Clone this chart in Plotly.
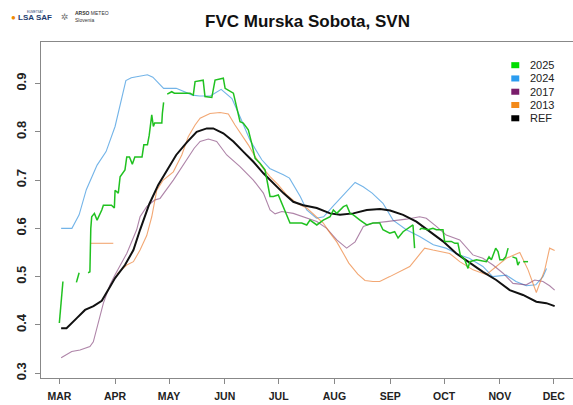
import plotly.graph_objects as go

# day-of-year on x, FVC on y; None marks a gap in the series
days_2025 = [60, 62, None,
             69.5, 71, None,
             76, 77, 77.5, 78, 79.5, 81, 83.6, 84.5, 89, 90.6, 91, 92.8, 93.8, 96.5, 97.5, 99,
             100.6, 102, 106, 107, 109, 110, 111.4, 112.3, 113, 117, 117.3, 118, None,
             120, 122.5, 124, 132.7, 134.5, 135.5, 140, 141, 144.8, 146.6, 151.2, 152.2, 156.8,
             158.7, 160.5, 162.3, 165.1, 167, 168.9, 171.6, 174.4, 177.2, 179, 181.8, 184.6,
             188.3, 194.8, 197.6, 199.4, 203.2, 206.8, 210.6, 212.4, 214.3, 218, 219.8, 221.7,
             223.5, 227.2, 231, 234.4, 238.2, 240, 243.8, 246.5, 248.4, 251.2, 254, 256.7, 257.6, None,
             260.4, 261.3, 265, 267.8, 269.7, 273.4, 274.3, 278, 280, 281.7, 283, 285.5, 287.3,
             288.3, 292, 297.5, 299, 300.3, 302.7, 304, 305, 306.8, 308.3, 309.6, None,
             312, 314.2, 315, 316, None,
             318, 320.7]
fvc_2025 = [0.404, 0.490, None,
            0.488, 0.508, None,
            0.508, 0.510, 0.600, 0.624, 0.631, 0.617, 0.638, 0.648, 0.648, 0.642, 0.679, 0.673,
            0.707, 0.721, 0.748, 0.748, 0.733, 0.748, 0.748, 0.773, 0.773, 0.793, 0.835, 0.811,
            0.818, 0.818, 0.838, 0.861, None,
            0.878, 0.883, 0.880, 0.880, 0.876, 0.904, 0.907, 0.873, 0.871, 0.907, 0.911, 0.890,
            0.880, 0.852, 0.821, 0.818, 0.804, 0.776, 0.745, 0.735, 0.721, 0.666, 0.666, 0.669,
            0.645, 0.611, 0.611, 0.607, 0.617, 0.607, 0.617, 0.624, 0.638, 0.631, 0.645, 0.648,
            0.631, 0.628, 0.617, 0.607, 0.611, 0.611, 0.597, 0.590, 0.593, 0.580, 0.593, 0.600,
            0.607, 0.559, None,
            0.597, 0.600, 0.597, 0.600, 0.597, 0.597, 0.573, 0.573, 0.569, 0.569, 0.545, 0.535,
            0.517, 0.531, 0.535, 0.531, 0.541, 0.535, 0.559, 0.552, 0.535, 0.535, 0.541, 0.559, None,
            0.541, 0.538, 0.524, 0.531, None,
            0.531, 0.531]

days_2024 = [61, 67, 71, 75, 81, 86, 91, 97, 100, 109, 112, 118, 125, 134, 138, 144, 150, 156,
             160.5, 166, 172.6, 177, 184.6, 188, 194, 197.6, 203, 207, 212, 220, 224.5, 229, 234,
             240, 245.6, 253, 260.4, 268, 275, 282.7, 288, 295.6, 301, 308.6, 314, 319.7, 325,
             329, 331]
fvc_2024 = [0.600, 0.600, 0.628, 0.680, 0.731, 0.759, 0.811, 0.906, 0.912, 0.918, 0.913, 0.890,
            0.890, 0.876, 0.874, 0.874, 0.888, 0.869, 0.831, 0.783, 0.742, 0.724, 0.711, 0.704,
            0.666, 0.638, 0.621, 0.624, 0.645, 0.676, 0.695, 0.686, 0.673, 0.652, 0.617, 0.597,
            0.583, 0.566, 0.559, 0.545, 0.538, 0.521, 0.500, 0.503, 0.490, 0.481, 0.483, 0.500,
            0.517]

days_2017 = [61, 66.9, 71.5, 77, 78.9, 81.7, 84.5, 88.2, 91, 97.5, 103, 104.9, 108.6, 113.2, 116,
             123.4, 130.9, 135, 138.3, 142.9, 147.5, 153.1, 160.5, 167.9, 173.5, 177.2, 180, 183.7,
             190.1, 197.6, 203.2, 208.7, 214.3, 219.8, 224.5, 229.1, 234.7, 241.9, 253, 260.4,
             264.1, 269.7, 275.2, 282.7, 290, 295.6, 301.2, 306.8, 312.3, 319.7, 324.4, 329,
             332.7, 335.5]
fvc_2017 = [0.332, 0.345, 0.348, 0.355, 0.365, 0.403, 0.445, 0.483, 0.504, 0.548, 0.597, 0.624,
            0.645, 0.659, 0.662, 0.700, 0.742, 0.766, 0.780, 0.785, 0.780, 0.752, 0.728, 0.700,
            0.673, 0.638, 0.630, 0.635, 0.631, 0.621, 0.614, 0.600, 0.576, 0.559, 0.572, 0.604,
            0.611, 0.614, 0.619, 0.624, 0.621, 0.604, 0.586, 0.576, 0.545, 0.538, 0.524, 0.507,
            0.486, 0.483, 0.493, 0.490, 0.481, 0.472]

days_2013 = [77.5, 90, None,
             92, 97.5, 101.2, 104.9, 108.6, 111.4, 114.2, 117.8, 123.4, 128.1, 131.7, 135.5, 138.3,
             143.8, 149.4, 154, 157.7, 161.4, 165.1, 168.8, 172.6, 177.2, 181.8, 186.5, 192, 197.6,
             203.2, 206.8, 210.6, 214.3, 218, 221, 226, 230, 234.4, 238.2, 243.8, 251.2, 254.9,
             258.6, 263.2, 267.8, 277.1, 282.7, 290.1, 297.5, 303, 308.6, 316.1, 320.7, 325.3,
             330, 332.7, 335.5]
fvc_2013 = [0.569, 0.569, None,
            0.505, 0.524, 0.531, 0.555, 0.585, 0.624, 0.679, 0.700, 0.717, 0.752, 0.790, 0.814,
            0.828, 0.838, 0.840, 0.837, 0.814, 0.793, 0.773, 0.749, 0.728, 0.707, 0.690, 0.669,
            0.652, 0.642, 0.624, 0.611, 0.590, 0.572, 0.548, 0.528, 0.505, 0.492, 0.490, 0.490,
            0.500, 0.515, 0.521, 0.538, 0.559, 0.555, 0.548, 0.531, 0.514, 0.504, 0.521, 0.538,
            0.550, 0.514, 0.467, 0.514, 0.559, 0.554]

days_ref = [61, 64, 69.7, 74.3, 79, 83.6, 88.2, 91, 96.5, 101.2, 104.9, 110, 115, 120, 125, 130.9,
            136.4, 142, 145.6, 151.2, 156.8, 162.3, 167.9, 173.5, 179, 184.6, 190.1, 195.7, 203.2,
            210.6, 216.1, 223.5, 231, 238.4, 244, 251.2, 258.6, 266, 273.4, 280.8, 288.3, 295.6,
            303, 310.5, 317.9, 325.3, 330.9, 335.5]
fvc_ref = [0.393, 0.393, 0.414, 0.431, 0.439, 0.450, 0.479, 0.497, 0.524, 0.555, 0.597, 0.650,
           0.690, 0.722, 0.752, 0.778, 0.800, 0.807, 0.807, 0.797, 0.780, 0.759, 0.738, 0.714,
           0.693, 0.673, 0.655, 0.648, 0.642, 0.631, 0.628, 0.631, 0.638, 0.640, 0.637, 0.628,
           0.614, 0.593, 0.573, 0.548, 0.528, 0.510, 0.493, 0.472, 0.462, 0.448, 0.445, 0.439]

month_days = [60, 91, 121, 152, 182, 213, 244, 274, 305, 335]
month_labels = ["MAR", "APR", "MAY", "JUN", "JUL", "AUG", "SEP", "OCT", "NOV", "DEC"]
fvc_ticks = [0.3, 0.4, 0.5, 0.6, 0.7, 0.8, 0.9]

# name, x, y, line colour, width, legend key colour
series = [
    ("2025", days_2025, fvc_2025, "rgba(20,190,20,0.95)", 1.5, "#00dd00"),
    ("2024", days_2024, fvc_2024, "rgba(40,140,220,0.65)", 1.1, "#2b9cf0"),
    ("2017", days_2017, fvc_2017, "rgba(120,50,110,0.6)", 1.1, "#7a1d6b"),
    ("2013", days_2013, fvc_2013, "rgba(235,120,40,0.65)", 1.1, "#f38a1a"),
    ("REF", days_ref, fvc_ref, "#111111", 2.0, "#000000"),
]

fig = go.Figure()
# draw order: years first, REF on top of the others except 2025
for name, xs, ys, col, w, _ in [series[1], series[2], series[3], series[4], series[0]]:
    fig.add_trace(go.Scatter(x=xs, y=ys, mode="lines", name=name,
                             line=dict(color=col, width=w), connectgaps=False,
                             showlegend=False, hoverinfo="skip"))

# hand-made legend (plotly's own entries are too far apart)
shapes = []
annotations = []
for i, (name, _, _, _, _, key) in enumerate(series):
    yc = 0.931 - i * 0.0395
    shapes.append(dict(type="rect", xref="paper", yref="paper",
                       x0=0.884, x1=0.899, y0=yc - 0.009, y1=yc + 0.009,
                       fillcolor=key, line=dict(width=0)))
    annotations.append(dict(text=name, xref="paper", yref="paper", x=0.916, y=yc,
                            xanchor="left", yanchor="middle", showarrow=False,
                            font=dict(family="Liberation Sans", size=11, color="#222")))

# title and logos
annotations.append(dict(text="<b>FVC Murska Sobota, SVN</b>", xref="paper", yref="paper",
                        x=0.5, y=1.06, xanchor="center", yanchor="middle", showarrow=False,
                        font=dict(family="Liberation Sans", size=17, color="#111")))
annotations.append(dict(text="<span style='color:#f08a00'>●</span> <b>LSA SAF</b>",
                        xref="paper", yref="paper", x=-0.06, y=1.074, xanchor="left",
                        yanchor="middle", showarrow=False,
                        font=dict(family="Liberation Sans", size=8, color="#1d3c6e")))
annotations.append(dict(text="EUMETSAT", xref="paper", yref="paper", x=-0.03, y=1.09,
                        xanchor="left", yanchor="middle", showarrow=False,
                        font=dict(family="Liberation Sans", size=3, color="#1d3c6e")))
annotations.append(dict(text="✲", xref="paper", yref="paper", x=0.033, y=1.074,
                        xanchor="left", yanchor="middle", showarrow=False,
                        font=dict(family="DejaVu Sans", size=9, color="#777")))
annotations.append(dict(text="<b>ARSO</b> METEO<br>Slovenia", xref="paper", yref="paper",
                        x=0.06, y=1.075, xanchor="left", yanchor="middle", showarrow=False,
                        align="left", font=dict(family="Liberation Sans", size=5, color="#333")))

fig.update_layout(
    width=573, height=405,
    margin=dict(l=41, r=0, t=42, b=27),
    paper_bgcolor="white", plot_bgcolor="white",
    shapes=shapes, annotations=annotations,
    showlegend=False,
)
fig.update_xaxes(range=[49.8, 345.7], tickvals=month_days,
                 ticktext=[f"<b>{m}</b>" for m in month_labels],
                 showgrid=False, zeroline=False, showline=True, mirror=True,
                 linecolor="#888", linewidth=1, ticks="outside", ticklen=5,
                 tickcolor="#888", tickfont=dict(family="Liberation Sans", size=10.5, color="#222"),
                 ticklabelstandoff=3)
fig.update_yaxes(range=[0.29, 0.986], tickvals=fvc_ticks,
                 ticktext=[f"<b>{v:.1f}</b>" for v in fvc_ticks],
                 showgrid=False, zeroline=False, showline=True,
                 linecolor="#888", linewidth=1, ticks="outside", ticklen=5,
                 tickcolor="#888", tickangle=-90,
                 tickfont=dict(family="Liberation Sans", size=13, color="#222"),
                 ticklabelstandoff=4)

# the page body has a default 8px margin; drop it so the figure sits at the corner
fig.write_html("out.html", config={"displayModeBar": False},
               post_script="document.body.style.margin='0';")
